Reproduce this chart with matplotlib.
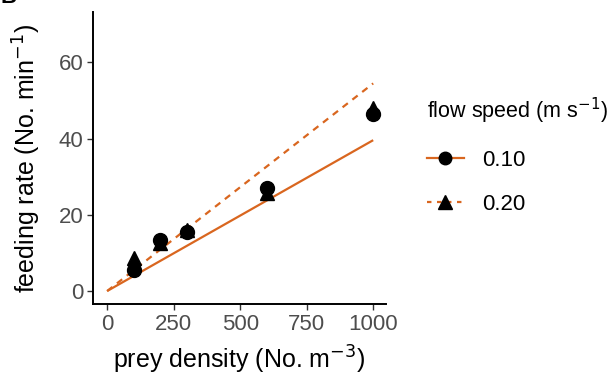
import matplotlib
matplotlib.use('Agg')
import matplotlib.pyplot as plt
from matplotlib.lines import Line2D

plt.rcParams['font.family'] = ['Liberation Sans', 'DejaVu Sans']

density = [100, 200, 300, 600, 1000]
rate_010 = [5.5, 13.4, 15.5, 27.0, 46.6]
rate_020 = [8.6, 12.6, 16.0, 25.8, 48.0]

fit_x = [0, 1000]
fit_010 = [0, 39.6]
fit_020 = [0, 54.5]

orange = '#D9661F'

fig = plt.figure(figsize=(6.16, 3.8), dpi=100)
ax = fig.add_axes([0.151, 0.2, 0.476, 0.768])

ax.plot(fit_x, fit_010, color=orange, lw=1.6, solid_capstyle='butt')
ax.plot(fit_x, fit_020, color=orange, lw=1.6, dashes=(3, 2.6))
ax.plot(density, rate_010, 'o', color='black', ms=10, ls='none')
ax.plot(density, rate_020, '^', color='black', ms=10.5, ls='none')

ax.set_xlim(-53, 1049)
ax.set_ylim(-3.4, 73.2)
ax.set_xticks([0, 250, 500, 750, 1000])
ax.set_yticks([0, 20, 40, 60])

for s in ['top', 'right']:
    ax.spines[s].set_visible(False)
for s in ['left', 'bottom']:
    ax.spines[s].set_linewidth(1.4)
ax.tick_params(axis='both', length=4, width=1.0, colors='#333333',
               labelcolor='#4D4D4D', labelsize=16, pad=3)

ax.set_xlabel('prey density (No. m$^{-3}$)', fontsize=18)
ax.set_ylabel('feeding rate (No. min$^{-1}$)', fontsize=18)
ax.xaxis.set_label_coords(0.5, -0.135)
ax.yaxis.set_label_coords(-0.172, 0.5)

handles = [
    Line2D([], [], color=orange, lw=1.6, marker='o', mfc='black', mec='black', ms=9),
    Line2D([], [], color=orange, lw=1.6, dashes=(2, 2.5), marker='^', mfc='black', mec='black', ms=10),
]
leg = fig.legend(handles, ['0.10', '0.20'], title='flow speed (m s$^{-1}$)',
                 loc='upper left', bbox_to_anchor=(0.66, 0.80), frameon=False,
                 fontsize=16, title_fontsize=15.5, handlelength=1.7,
                 labelspacing=1.05, handletextpad=0.8)
leg._legend_box.align = 'left'

fig.text(0.0, 1.035, 'B', fontsize=16, fontweight='bold', va='top', ha='left')

fig.savefig('out.png', dpi=100)
